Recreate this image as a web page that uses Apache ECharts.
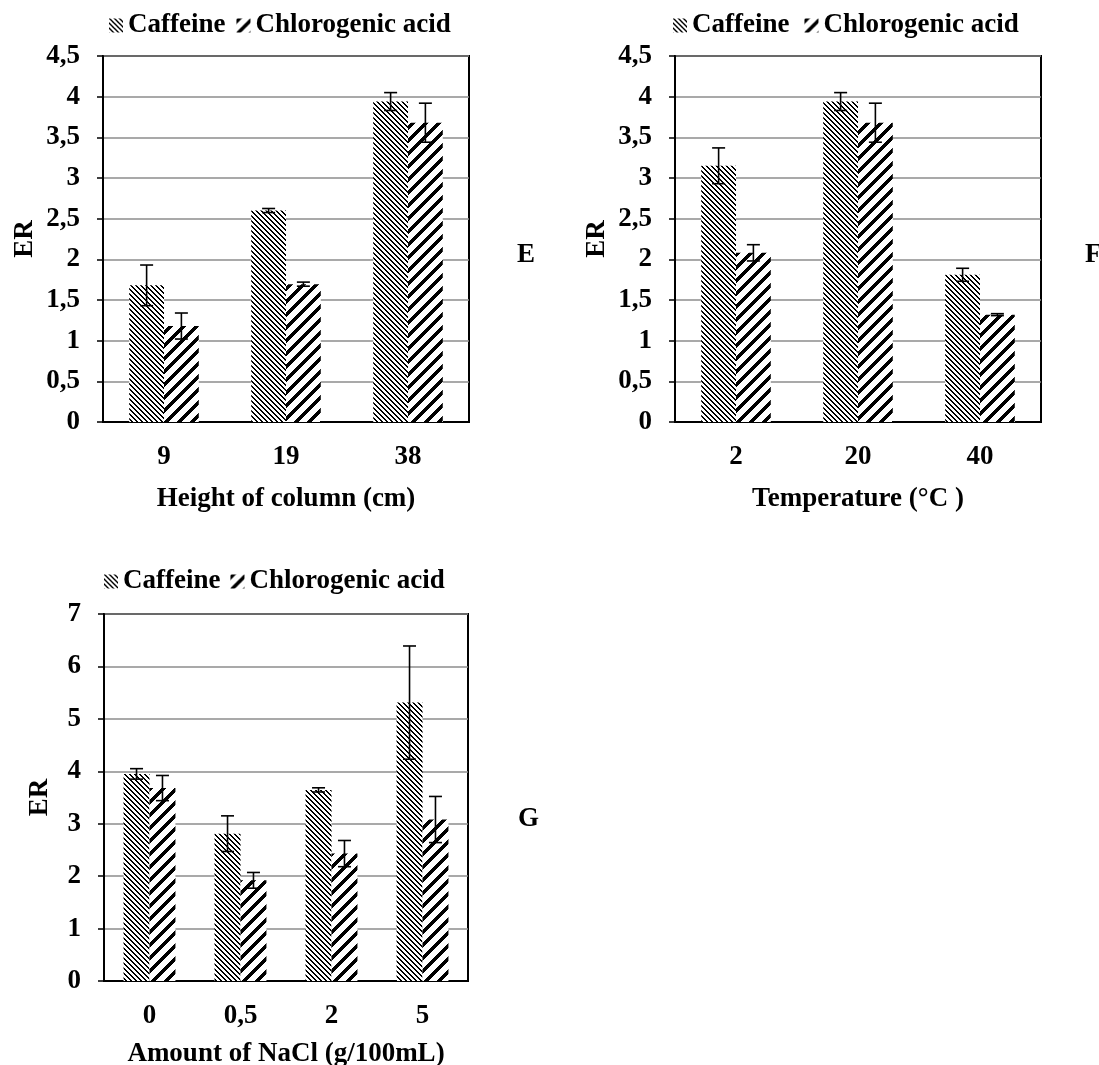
<!DOCTYPE html>
<html><head><meta charset="utf-8">
<script src="https://cdn.jsdelivr.net/npm/echarts@6/dist/echarts.min.js"></script>
<style>html,body{margin:0;padding:0;background:#fff}#c{width:1099px;height:1065px}</style>
</head><body><div id="c"></div><script>
// ---- data ----
const seriesNames = ['Caffeine', 'Chlorogenic acid'];
const heightCats = ['9', '19', '38'];
const heightCaffeine = [1.68, 2.60, 3.94];
const heightCaffeineErr = [0.25, 0.025, 0.11];
const heightChloro = [1.18, 1.695, 3.68];
const heightChloroErr = [0.16, 0.025, 0.24];
const tempCats = ['2', '20', '40'];
const tempCaffeine = [3.15, 3.94, 1.81];
const tempCaffeineErr = [0.22, 0.11, 0.08];
const tempChloro = [2.08, 3.68, 1.32];
const tempChloroErr = [0.10, 0.24, 0.012];
const naclCats = ['0', '0,5', '2', '5'];
const naclCaffeine = [3.95, 2.81, 3.645, 5.31];
const naclCaffeineErr = [0.10, 0.34, 0.04, 1.08];
const naclChloro = [3.68, 1.92, 2.43, 3.08];
const naclChloroErr = [0.24, 0.15, 0.25, 0.44];
const axisNames = ['Height of column (cm)', 'Temperature (\u00B0C )', 'Amount of NaCl (g/100mL)'];
const panelLetters = ['E', 'F', 'G'];

// ---- patterns ----
function makeTile(size, fn) {
  const c = document.createElement('canvas');
  c.width = c.height = size;
  const ctx = c.getContext('2d');
  ctx.fillStyle = '#fff'; ctx.fillRect(0, 0, size, size);
  ctx.fillStyle = '#000';
  for (let y = 0; y < size; y++) for (let x = 0; x < size; x++) if (fn(x, y)) ctx.fillRect(x, y, 1, 1);
  return c;
}
const caffeineTile = makeTile(5, (x, y) => (((x - y) % 5) + 5) % 5 < 2);
const chloroTile = makeTile(13, (x, y) => (x + y) % 13 < 5);
const caffeineFill = { image: caffeineTile, repeat: 'repeat' };
const chloroFill = { image: chloroTile, repeat: 'repeat' };

const FONT = 'Liberation Serif';
const FS = 27;
const GAP = 0.43;
const txt = { color: '#000', fontFamily: FONT, fontWeight: 'bold', fontSize: FS };
const commaFmt = v => String(v).replace('.', ',');

const grids = [
  { left: 103, top: 56, width: 366, height: 366 },
  { left: 675, top: 56, width: 366, height: 366 },
  { left: 104, top: 614, width: 364, height: 367 }
];
const cats = [heightCats, tempCats, naclCats];
const yMax = [4.5, 4.5, 7];
const yInt = [0.5, 0.5, 1];
const yNameGap = [64, 64, 50];
const xNameGap = [64, 64, 60];

function xAxis(i) {
  return {
    type: 'category', gridIndex: i, data: cats[i],
    axisLine: { lineStyle: { color: '#000', width: 2 } },
    axisTick: { show: false },
    axisLabel: Object.assign({ margin: 22 }, txt),
    name: axisNames[i], nameLocation: 'middle', nameGap: xNameGap[i],
    nameTextStyle: txt
  };
}
function yAxis(i) {
  return {
    type: 'value', gridIndex: i, min: 0, max: yMax[i], interval: yInt[i],
    axisLine: { show: true, lineStyle: { color: '#000', width: 2 } },
    axisTick: { show: true, length: 6, lineStyle: { color: '#000', width: 1.5 } },
    splitLine: { lineStyle: { color: '#8c8c8c', width: 1.5 } },
    axisLabel: Object.assign({ margin: 23, formatter: commaFmt }, txt),
    name: 'ER', nameLocation: 'middle', nameGap: yNameGap[i], nameRotate: 90,
    nameTextStyle: txt
  };
}
function errRender(side) {
  return function (params, api) {
    const i = api.value(0), v = api.value(1), e = api.value(2);
    const c = api.coord([i, v]);
    const catW = api.size([1, 0])[0];
    const barW = catW * (1 - GAP) / 2;
    const x = c[0] + side * barW / 2;
    const yt = api.coord([i, v + e])[1];
    const yb = api.coord([i, v - e])[1];
    const cap = 6.5;
    const st = { stroke: '#000', lineWidth: 1.6 };
    return {
      type: 'group', children: [
        { type: 'line', shape: { x1: x, y1: yt, x2: x, y2: yb }, style: st },
        { type: 'line', shape: { x1: x - cap, y1: yt, x2: x + cap, y2: yt }, style: st },
        { type: 'line', shape: { x1: x - cap, y1: yb, x2: x + cap, y2: yb }, style: st }
      ]
    };
  };
}
const panels = [
  [heightCaffeine, heightCaffeineErr, heightChloro, heightChloroErr],
  [tempCaffeine, tempCaffeineErr, tempChloro, tempChloroErr],
  [naclCaffeine, naclCaffeineErr, naclChloro, naclChloroErr]
];
const series = [];
panels.forEach((p, i) => {
  series.push({ type: 'bar', name: seriesNames[0], xAxisIndex: i, yAxisIndex: i, data: p[0],
    barGap: '0%', barCategoryGap: (GAP * 100) + '%', itemStyle: { color: caffeineFill } });
  series.push({ type: 'bar', name: seriesNames[1], xAxisIndex: i, yAxisIndex: i, data: p[2],
    barGap: '0%', barCategoryGap: (GAP * 100) + '%', itemStyle: { color: chloroFill } });
  series.push({ type: 'custom', name: 'errA' + i, xAxisIndex: i, yAxisIndex: i, z: 5,
    renderItem: errRender(-1), encode: { x: 0, y: 1 }, clip: false,
    data: p[0].map((v, k) => [k, v, p[1][k]]) });
  series.push({ type: 'custom', name: 'errB' + i, xAxisIndex: i, yAxisIndex: i, z: 5,
    renderItem: errRender(1), encode: { x: 0, y: 1 }, clip: false,
    data: p[2].map((v, k) => [k, v, p[3][k]]) });
});
const legendBase = { data: seriesNames, icon: 'rect', itemWidth: 14, itemHeight: 14,
  textStyle: txt, selectedMode: false };
const legends = [
  Object.assign({ left: 104, top: 7, itemGap: 11 }, legendBase),
  Object.assign({ left: 668, top: 7, itemGap: 15 }, legendBase),
  Object.assign({ left: 99, top: 563, itemGap: 10 }, legendBase)
];
const letterPos = [[517, 257], [1085, 257], [518, 821]];
const graphic = panelLetters.map((t, i) => ({
  type: 'text', left: letterPos[i][0], top: letterPos[i][1] - 15,
  style: { text: t, fill: '#000', font: 'bold ' + FS + 'px "' + FONT + '"' }
}));

const chart = echarts.init(document.getElementById('c'), null, { renderer: 'canvas' });
chart.setOption({
  animation: false,
  backgroundColor: '#fff',
  grid: grids.map(g => Object.assign({ show: true, borderColor: '#000', borderWidth: 2,
    containLabel: false, outerBoundsMode: 'none' }, g)),
  xAxis: [0, 1, 2].map(xAxis),
  yAxis: [0, 1, 2].map(yAxis),
  legend: legends,
  series: series,
  graphic: graphic
});
</script></body></html>
